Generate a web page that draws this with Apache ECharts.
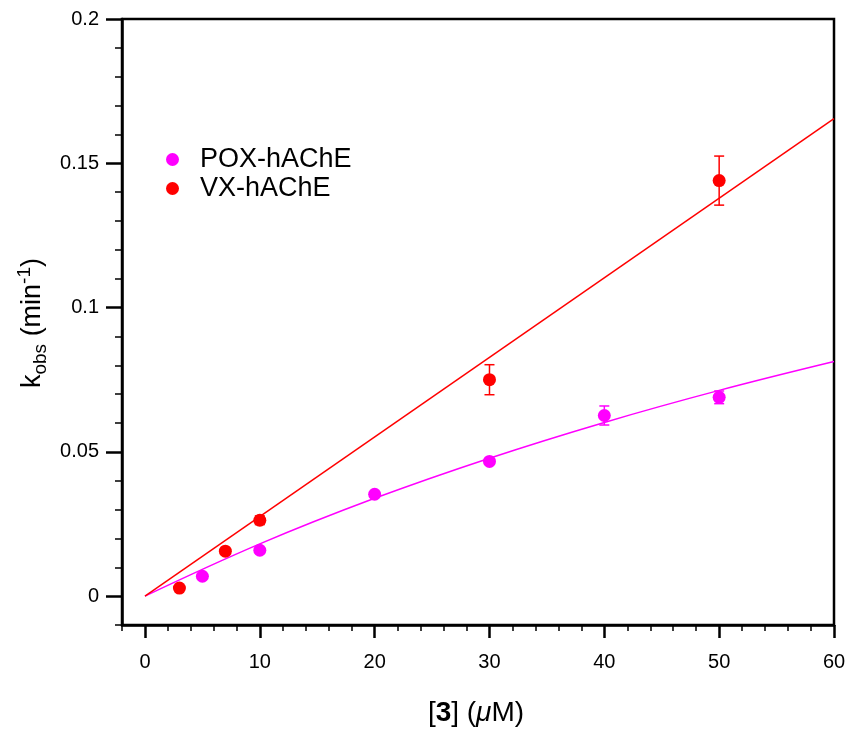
<!DOCTYPE html>
<html>
<head>
<meta charset="utf-8">
<script src="https://cdn.jsdelivr.net/npm/echarts@6/dist/echarts.min.js"></script>
<style>
  html, body { margin: 0; padding: 0; background: #fff; }
  #chart { width: 850px; height: 730px; }
</style>
</head>
<body>
<div id="chart"></div>
<script>
// Observed rate constants vs. oxime concentration
const poxConc = [5, 10, 20, 30, 40, 50];
const poxKobs = [0.0069, 0.0159, 0.0353, 0.0467, 0.0626, 0.0689];
const poxErr  = [0.0006, 0.0008, 0.0009, 0.0010, 0.0033, 0.0022];

const vxConc = [3, 7, 10, 30, 50];
const vxKobs = [0.0028, 0.0156, 0.0263, 0.0750, 0.1440];
const vxErr  = [0.0006, 0.0010, 0.0015, 0.0052, 0.0085];

// Fitted curves
const poxFitConc = [0, 10, 20, 30, 40, 50, 60];
const poxFitKobs = [0, 0.0181, 0.0339, 0.0478, 0.0602, 0.0713, 0.0813];
const vxFitConc = [0, 60];
const vxFitKobs = [0, 0.1655];

// Axis ticks
const xMajorTicks = [0, 10, 20, 30, 40, 50, 60];
const xMinorTicks = [-2, 2, 4, 6, 8, 12, 14, 16, 18, 22, 24, 26, 28, 32, 34, 36, 38, 42, 44, 46, 48, 52, 54, 56, 58];
const yMajorTicks = [0, 0.05, 0.1, 0.15, 0.2];
const yMinorTicks = [-0.01, 0.01, 0.02, 0.03, 0.04, 0.06, 0.07, 0.08, 0.09, 0.11, 0.12, 0.13, 0.14, 0.16, 0.17, 0.18, 0.19];

const POX_COLOR = '#ff00ff';
const VX_COLOR = '#ff0000';
const FONT = '"Liberation Sans", Arial, Helvetica, sans-serif';

const zip = (a, b) => a.map((v, i) => [v, b[i]]);
const errData = (xs, ys, es) => xs.map((x, i) => [x, ys[i] - es[i], ys[i] + es[i]]);

function errorBarRenderer(color) {
  return function (params, api) {
    const x = api.value(0);
    const lo = api.coord([x, api.value(1)]);
    const hi = api.coord([x, api.value(2)]);
    const cap = 5;
    const style = { stroke: color, lineWidth: 1.5 };
    return {
      type: 'group',
      children: [
        { type: 'line', shape: { x1: lo[0], y1: lo[1], x2: hi[0], y2: hi[1] }, style },
        { type: 'line', shape: { x1: lo[0] - cap, y1: lo[1], x2: lo[0] + cap, y2: lo[1] }, style },
        { type: 'line', shape: { x1: hi[0] - cap, y1: hi[1], x2: hi[0] + cap, y2: hi[1] }, style }
      ]
    };
  };
}

const chart = echarts.init(document.getElementById('chart'), null, { renderer: 'canvas' });

const frameLine = { show: true, onZero: false, lineStyle: { color: '#000', width: 2.5 } };
const hiddenLine = { show: false, onZero: false };

chart.setOption({
  animation: false,
  backgroundColor: '#fff',
  grid: {
    left: 122, right: 16, top: 19, bottom: 105,
    show: true, borderColor: '#000', borderWidth: 2.5, backgroundColor: 'transparent'
  },
  legend: {
    left: 161, top: 141, orient: 'vertical',
    icon: 'circle', itemWidth: 13, itemHeight: 13, itemGap: 2,
    data: ['POX-hAChE', 'VX-hAChE'],
    textStyle: { fontFamily: FONT, fontSize: 27, color: '#000', lineHeight: 26, padding: [0, 0, 0, 16] }
  },
  xAxis: [
    {
      type: 'value', position: 'bottom', min: -2, max: 60,
      axisLine: frameLine,
      splitLine: { show: false },
      axisTick: { show: true, inside: false, length: 13, customValues: xMajorTicks, lineStyle: { color: '#000', width: 2.5 } },
      axisLabel: { show: true, customValues: xMajorTicks, margin: 27, fontFamily: FONT, fontSize: 20, color: '#000' }
    },
    {
      type: 'value', position: 'bottom', min: -2, max: 60,
      axisLine: hiddenLine,
      splitLine: { show: false },
      axisTick: { show: true, inside: false, length: 6, customValues: xMinorTicks, lineStyle: { color: '#000', width: 1.5 } },
      axisLabel: { show: false }
    }
  ],
  yAxis: [
    {
      type: 'value', position: 'left', min: -0.01, max: 0.2,
      axisLine: frameLine,
      splitLine: { show: false },
      axisTick: { show: true, inside: false, length: 16, customValues: yMajorTicks, lineStyle: { color: '#000', width: 2.5 } },
      axisLabel: {
        show: true, customValues: yMajorTicks, margin: 23, fontFamily: FONT, fontSize: 20, color: '#000',
        formatter: v => String(parseFloat(Number(v).toFixed(3)))
      }
    },
    {
      type: 'value', position: 'left', min: -0.01, max: 0.2,
      axisLine: hiddenLine,
      splitLine: { show: false },
      axisTick: { show: true, inside: false, length: 7, customValues: yMinorTicks, lineStyle: { color: '#000', width: 1.5 } },
      axisLabel: { show: false }
    }
  ],
  graphic: [
    {
      type: 'text', x: 33, y: 323, rotation: Math.PI / 2,
      style: {
        text: '{m|k}{sub|obs}{m| (min}{sup|-1}{m|)}',
        align: 'center', verticalAlign: 'middle',
        rich: {
          m: { fontFamily: FONT, fontSize: 27, fill: '#000', lineHeight: 40 },
          sub: { fontFamily: FONT, fontSize: 19, fill: '#000', padding: [16, 0, 0, 0], lineHeight: 40 },
          sup: { fontFamily: FONT, fontSize: 19, fill: '#000', padding: [0, 0, 16, 0], lineHeight: 40 }
        }
      }
    },
    {
      type: 'text', x: 476, y: 713,
      style: {
        text: '{m|[}{b|3}{m|] (}{i|μ}{m|M)}',
        align: 'center', verticalAlign: 'middle',
        rich: {
          m: { fontFamily: FONT, fontSize: 28, fill: '#000' },
          b: { fontFamily: FONT, fontSize: 28, fontWeight: 'bold', fill: '#000' },
          i: { fontFamily: FONT, fontSize: 28, fontStyle: 'italic', fill: '#000' }
        }
      }
    }
  ],
  series: [
    {
      name: 'POX fit', type: 'line', xAxisIndex: 0, yAxisIndex: 0,
      data: zip(poxFitConc, poxFitKobs), smooth: 0.4, showSymbol: false,
      lineStyle: { color: POX_COLOR, width: 1.5 }, z: 2, silent: true
    },
    {
      name: 'VX fit', type: 'line', xAxisIndex: 0, yAxisIndex: 0,
      data: zip(vxFitConc, vxFitKobs), showSymbol: false,
      lineStyle: { color: VX_COLOR, width: 1.5 }, z: 2, silent: true
    },
    {
      name: 'POX err', type: 'custom', xAxisIndex: 0, yAxisIndex: 0,
      data: errData(poxConc, poxKobs, poxErr), renderItem: errorBarRenderer(POX_COLOR), z: 3
    },
    {
      name: 'VX err', type: 'custom', xAxisIndex: 0, yAxisIndex: 0,
      data: errData(vxConc, vxKobs, vxErr), renderItem: errorBarRenderer(VX_COLOR), z: 3
    },
    {
      name: 'POX-hAChE', type: 'scatter', xAxisIndex: 0, yAxisIndex: 0,
      data: zip(poxConc, poxKobs), symbol: 'circle', symbolSize: 13,
      itemStyle: { color: POX_COLOR, opacity: 1 }, z: 4
    },
    {
      name: 'VX-hAChE', type: 'scatter', xAxisIndex: 0, yAxisIndex: 0,
      data: zip(vxConc, vxKobs), symbol: 'circle', symbolSize: 13,
      itemStyle: { color: VX_COLOR, opacity: 1 }, z: 4
    }
  ]
});
</script>
</body>
</html>
